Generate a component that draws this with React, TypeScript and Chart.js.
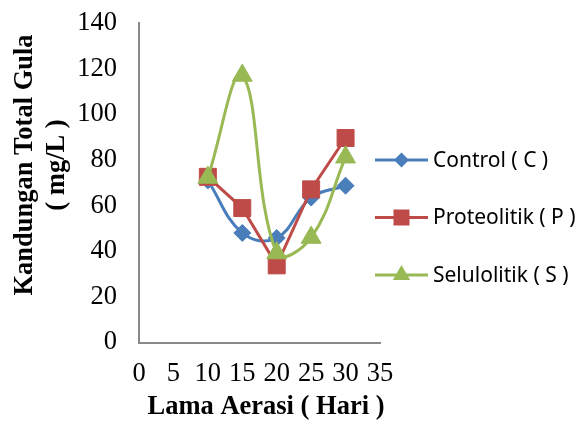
import React, { useEffect, useRef } from 'react';
import { Chart, registerables } from 'chart.js';

Chart.register(...registerables);

// ---- data ----
const days = [10, 15, 20, 25, 30];
const controlValues = [71, 48, 45.8, 63.5, 68.7];
const proteolitikValues = [72.6, 58.9, 33.8, 67.1, 89.6];
const selulolitikValues = [72.3, 117, 39.2, 46, 81.2];
const seriesNames = ['Control ( C )', 'Proteolitik ( P )', 'Selulolitik ( S )'];
const xAxisTitle = 'Lama Aerasi ( Hari )';
const yAxisTitle = ['Kandungan Total Gula', '( mg/L )'];
const xRange = [0, 35, 5];
const yRange = [0, 140, 20];

const COLORS = ['#4A7EBB', '#BE4B48', '#98B954'];
const SERIF = '"Liberation Serif", "Times New Roman", serif';

function drawMarker(ctx: CanvasRenderingContext2D, kind: number, x: number, y: number) {
  ctx.beginPath();
  if (kind === 0) {
    const r = 7.5;
    ctx.moveTo(x, y - r);
    ctx.lineTo(x + r, y);
    ctx.lineTo(x, y + r);
    ctx.lineTo(x - r, y);
  } else if (kind === 1) {
    const h = 8;
    ctx.rect(x - h, y - h, 2 * h, 2 * h);
  } else {
    const r = 10;
    ctx.moveTo(x, y - r);
    ctx.lineTo(x + r * 0.866, y + r / 2);
    ctx.lineTo(x - r * 0.866, y + r / 2);
  }
  ctx.closePath();
  ctx.fill();
}

const decorPlugin = {
  id: 'decor',
  afterDraw(chart: any) {
    const ctx: CanvasRenderingContext2D = chart.ctx;
    ctx.save();
    ctx.fillStyle = '#000';
    ctx.font = `bold 26.5px ${SERIF}`;
    ctx.textAlign = 'center';
    ctx.textBaseline = 'middle';
    // x title
    ctx.fillText(xAxisTitle, 266, 407);
    // y title
    ctx.save();
    ctx.translate(25, 165);
    ctx.rotate(-Math.PI / 2);
    yAxisTitle.forEach((line, i) => ctx.fillText(line, 0, i * 32));
    ctx.restore();

    // legend
    const y0 = 160;
    const dy = 57.5;
    seriesNames.forEach((name, i) => {
      const y = y0 + i * dy;
      ctx.strokeStyle = COLORS[i];
      ctx.fillStyle = COLORS[i];
      ctx.lineWidth = 3;
      ctx.beginPath();
      ctx.moveTo(375, y);
      ctx.lineTo(428, y);
      ctx.stroke();
      drawMarker(ctx, i, 401.5, y);
      ctx.fillStyle = '#000';
      ctx.font = '21px "Noto Sans", sans-serif';
      ctx.textAlign = 'left';
      ctx.textBaseline = 'middle';
      ctx.fillText(name, 433, y + 1);
    });
    ctx.restore();
  },
};

export default function App() {
  const ref = useRef<HTMLCanvasElement | null>(null);

  useEffect(() => {
    document.body.style.margin = '0';
    const canvas = ref.current;
    if (!canvas) return;
    const mk = (i: number, values: number[], style: string, radius: number, tension: number, order: number) => ({
      label: seriesNames[i],
      data: days.map((d, k) => ({ x: d, y: values[k] })),
      borderColor: COLORS[i],
      backgroundColor: COLORS[i],
      pointBackgroundColor: COLORS[i],
      pointBorderColor: COLORS[i],
      borderWidth: 3,
      pointStyle: style,
      pointRadius: radius,
      pointBorderWidth: 1,
      tension,
      order,
      clip: false as any,
    });
    const chart = new Chart(canvas, {
      type: 'line',
      data: {
        datasets: [
          mk(0, controlValues, 'rectRot', 8.5, 0.4, 2),
          mk(1, proteolitikValues, 'rect', 12, 0, 1),
          mk(2, selulolitikValues, 'triangle', 11.5, 0.4, 0),
        ],
      },
      options: {
        animation: false,
        responsive: false,
        layout: { padding: { top: 23, right: 198, bottom: 0, left: 0 } },
        plugins: { legend: { display: false }, tooltip: { enabled: false } },
        scales: {
          x: {
            type: 'linear',
            min: xRange[0],
            max: xRange[1],
            ticks: {
              stepSize: xRange[2],
              color: '#000',
              font: { family: SERIF, size: 26.5 },
              padding: 16,
              maxRotation: 0,
              autoSkip: false,
            },
            grid: { display: false, drawTicks: false },
            border: { display: true, color: '#898989', width: 2 },
            afterFit(s: any) {
              s.height = 80.5;
              s.paddingLeft = 0;
              s.paddingRight = 0;
            },
          },
          y: {
            type: 'linear',
            min: yRange[0],
            max: yRange[1],
            ticks: {
              stepSize: yRange[2],
              color: '#000',
              font: { family: SERIF, size: 26.5 },
              padding: 22,
            },
            grid: { display: false, drawTicks: false },
            border: { display: true, color: '#898989', width: 2 },
            afterFit(s: any) {
              s.width = 139;
              s.paddingTop = 0;
              s.paddingBottom = 0;
            },
          },
        },
      },
      plugins: [decorPlugin],
    });
    return () => chart.destroy();
  }, []);

  return (
    <div style={{ width: 578, height: 423, background: '#fff' }}>
      <canvas ref={ref} width={578} height={423} />
    </div>
  );
}
